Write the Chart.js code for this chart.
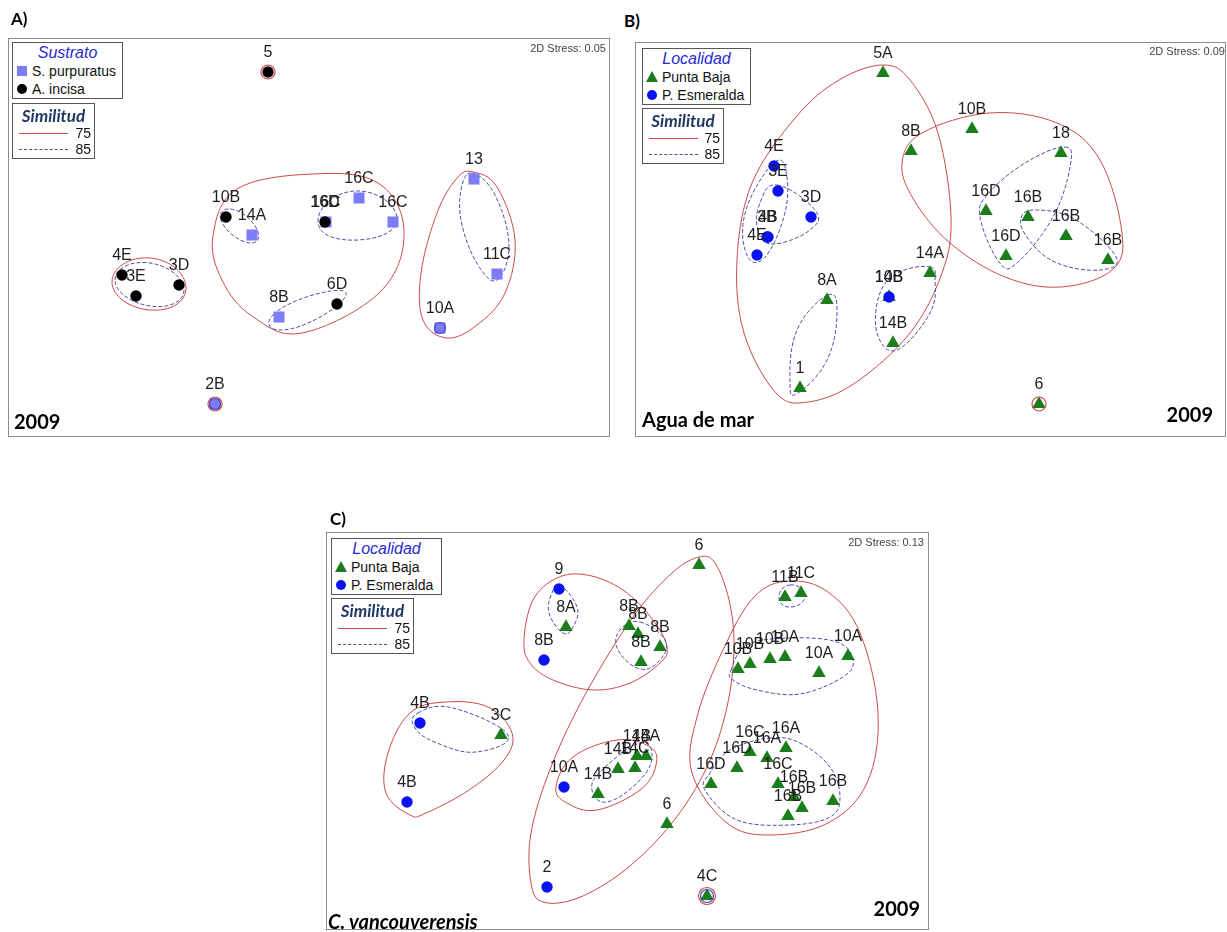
<!DOCTYPE html>
<html>
<head>
<meta charset="utf-8">
<script src="https://cdn.jsdelivr.net/npm/chart.js@4.4.1/dist/chart.umd.min.js"></script>
<style>
  html, body { margin: 0; padding: 0; background: #fff; }
  body { width: 1227px; height: 932px; position: relative; overflow: hidden;
         font-family: "Liberation Sans", Arial, sans-serif; }
  canvas.plot { position: absolute; }
  .t { position: absolute; line-height: 1; white-space: nowrap; }
  .tag { font-family: Lato, "Open Sans", sans-serif; font-weight: 700; font-size: 17px; color: #000; }
  .big { font-family: Lato, "Open Sans", sans-serif; font-weight: 700; font-size: 20px; color: #000; }
  .bigi { font-family: Lato, "Open Sans", sans-serif; font-weight: 700; font-style: italic; font-size: 20px; color: #000; }
  .stress { font-size: 11px; color: #444; }
  .box { position: absolute; border: 1px solid #555; background: #fff; box-sizing: border-box; }
  .ltitle { font-style: italic; font-size: 16px; color: #2a2ad6; }
  .stitle { font-family: Lato, "Open Sans", sans-serif; font-weight: 700; font-style: italic; font-size: 17px; color: #1f3864; }
  .item { font-size: 14px; color: #111; }
</style>
</head>
<body>
<canvas id="chartA" class="plot"></canvas>
<canvas id="chartB" class="plot"></canvas>
<canvas id="chartC" class="plot"></canvas>
<script>
// ---------- shared level names ----------
const simLevels = ['75', '85'];

// ---------- A) Sustrato, 2009 ----------
const aNames  = ['S. purpuratus', 'A. incisa'];
const aLabels = ['5','10B','14A','16C','16D','16C','16C','4E','3E','3D','8B','6D','13','11C','10A','2B'];
const aX      = [260, 218, 244, 318, 317, 351, 385, 114, 128, 171, 271, 329, 466, 489, 432, 207];
const aY      = [365, 220, 202, 215, 215, 239, 215, 162, 141, 152, 120, 133, 258, 163, 109,  33];
const aGroup  = [  1,   1,   0,   0,   1,   0,   0,   1,   1,   1,   0,   1,   0,   0,   0,   0];
const aRing75 = [0, 15];
const aRing85 = [14, 15];
const aHull75 = [
  [[104,155],[142,179],[178,149],[142,127]],
  [[205,201],[229,248],[305,263],[370,254],[396,205],[372,145],[294,104],[244,121],[214,157]],
  [[465,265],[489,250],[507,197],[497,144],[469,112],[439,99],[415,117],[413,164],[429,224],[449,259]]
];
const aHull85 = [
  [[107,157],[142,174],[176,147],[142,131]],
  [[213,217],[227,227],[250,205],[237,195]],
  [[310,215],[347,246],[389,219],[350,197]],
  [[265,122],[317,145],[334,136],[282,108]],
  [[464,264],[487,242],[501,192],[489,157],[470,172],[454,212],[453,247]]
];

// ---------- B) Agua de mar, 2009 ----------
const bNames  = ['Punta Baja', 'P. Esmeralda'];
const bLabels = ['5A','10B','8B','18','16D','16B','16B','16D','16B','14A','14B','14B','8A','1','6',
                 '4E','3E','3D','3B','4B','4E','10B'];
const bX      = [248, 337, 276, 426, 351, 393, 431, 371, 473, 295, 254, 258, 192, 165, 404,
                 139, 143, 176, 132, 133, 122, 254];
const bY      = [364, 308, 286, 284, 226, 220, 201, 181, 177, 164, 140,  94, 137,  49,  33,
                 271, 246, 220, 200, 200, 182, 140];
const bGroup  = [0,0,0,0,0,0,0,0,0,0,0,0,0,0,0, 1,1,1,1,1,1,1];
const bRing75 = [14];
const bRing85 = [];
const bHull75 = [
  [[248,372],[275,357],[303,304],[316,220],[307,164],[275,104],[220,54],[173,35],[141,44],[109,104],[102,177],[117,254],[161,320],[204,357]],
  [[267,274],[287,304],[354,324],[422,314],[465,277],[487,204],[477,167],[426,150],[370,160],[315,194],[279,237]]
];
const bHull85 = [
  [[430,290],[435,270],[418,220],[382,174],[364,175],[345,220],[354,244],[390,274]],
  [[386,219],[402,227],[441,217],[481,180],[465,167],[422,174],[394,197]],
  [[140,275],[152,260],[148,217],[127,177],[110,187],[112,230]],
  [[142,252],[180,227],[175,207],[138,193],[123,207],[125,234]],
  [[193,142],[202,124],[192,77],[163,44],[155,54],[162,107]],
  [[295,170],[300,157],[295,124],[262,87],[242,104],[245,144],[265,165]]
];

// ---------- C) C. vancouverensis, 2009 ----------
const cNames  = ['Punta Baja', 'P. Esmeralda'];
const cLabels = ['6','8A','8B','8B','8B','8B','11B','11C','10B','10B','10B','10A','10A','10A','3C',
                 '14B','14B','14C','14B','14A','6','16D','16D','16C','16A','16A','16C','16B','16B','16B','16B','4C',
                 '9','8B','4B','4B','10A','2'];
const cX      = [373, 240, 303, 312, 334, 315, 459, 475, 412, 424, 444, 459, 493, 522, 175,
                 272, 292, 309, 311, 320, 341, 385, 411, 424, 441, 460, 452, 468, 476, 462, 507, 381,
                 233, 218,  94,  81, 238, 221];
const cY      = [365, 303, 304, 296, 283, 268, 333, 337, 261, 266, 271, 273, 257, 274, 195,
                 136, 161, 162, 174, 174, 106, 146, 162, 178, 172, 182, 146, 133, 122, 114, 129,  34,
                 341, 270, 207, 128, 143,  43];
const cGroup  = [0,0,0,0,0,0,0,0,0,0,0,0,0,0,0, 0,0,0,0,0,0,0,0,0,0,0,0,0,0,0,0,0, 1,1,1,1,1,1];
const cRing75 = [31];
const cRing85 = [31];
const cHull75 = [
  [[198,290],[207,330],[231,352],[261,355],[297,340],[327,310],[341,283],[334,267],[304,247],[267,240],[227,250],[204,267]],
  [[373,373],[389,367],[403,330],[408,283],[401,223],[381,163],[346,107],[299,60],[252,32],[217,28],[205,47],[205,97],[225,163],[260,237],[307,313],[346,357]],
  [[119,228],[162,223],[186,197],[178,170],[143,140],[100,117],[84,115],[60,137],[62,177],[84,217]],
  [[230,143],[247,173],[291,190],[324,183],[330,165],[314,140],[271,120],[241,127]],
  [[463,349],[502,338],[534,297],[552,217],[541,147],[502,107],[444,95],[401,107],[366,157],[371,213],[397,280],[428,333]]
];
const cHull85 = [
  [[234,345],[251,323],[247,303],[237,297],[223,317],[226,337]],
  [[314,308],[339,290],[334,270],[314,261],[292,280],[294,300]],
  [[92,217],[127,222],[182,195],[150,178],[111,187],[89,202]],
  [[314,187],[326,172],[311,147],[281,128],[266,140],[276,160]],
  [[464,345],[479,335],[466,323],[453,332]],
  [[405,260],[421,285],[464,292],[511,288],[527,270],[517,253],[474,236],[431,240],[407,250]],
  [[444,192],[474,187],[504,163],[514,133],[504,113],[464,105],[411,110],[379,140],[384,157],[404,180]]
];

// ---------- styling ----------
const RED = '#cc4a4a';
const NAVY_DASH = '#4a52a8';
const SQUARE = { shape: 'rect',     r: 7.8, color: '#7c7cf4', order: 1 };
const BLACK  = { shape: 'circle',   r: 5.7, color: '#000000', order: 0 };
const GREEN  = { shape: 'triangle', r: 7.8, color: '#1b7d1b', order: 1 };
const BLUE   = { shape: 'circle',   r: 5.7, color: '#0a12f2', order: 0 };

// Closed smooth curve through the outline points (cubic Bezier, circle-tuned handles)
function closedSpline(ctx, pts) {
  const n = pts.length;
  const k = (4 / 3) * Math.tan(Math.PI / (2 * n)) / Math.sin(2 * Math.PI / n);
  ctx.beginPath();
  ctx.moveTo(pts[0][0], pts[0][1]);
  for (let i = 0; i < n; i++) {
    const p0 = pts[(i - 1 + n) % n], p1 = pts[i], p2 = pts[(i + 1) % n], p3 = pts[(i + 2) % n];
    ctx.bezierCurveTo(
      p1[0] + k * (p2[0] - p0[0]) / 2, p1[1] + k * (p2[1] - p0[1]) / 2,
      p2[0] - k * (p3[0] - p1[0]) / 2, p2[1] - k * (p3[1] - p1[1]) / 2,
      p2[0], p2[1]);
  }
  ctx.closePath();
}

function makeChart(id, frame, labels, xs, ys, groups, ring75, ring85, hull75, hull85, names, styles, ringR) {
  const [left, top, w, h] = frame;
  const cv = document.getElementById(id);
  cv.width = w; cv.height = h;
  cv.style.left = left + 'px'; cv.style.top = top + 'px';

  const datasets = styles.map((st, g) => ({
    label: names[g],
    data: labels.map((l, i) => ({ x: xs[i], y: ys[i], label: l, r75: ring75.includes(i), r85: ring85.includes(i), g: groups[i] }))
                .filter(p => p.g === g),
    pointStyle: st.shape,
    pointRadius: st.r,
    pointHoverRadius: st.r,
    backgroundColor: st.color,
    borderColor: st.color,
    borderWidth: 0,
    order: st.order,
    clip: false
  }));

  const hullPlugin = {
    id: 'hulls',
    beforeDatasetsDraw(chart) {
      const { ctx, scales: { x, y } } = chart;
      const toPx = pts => pts.map(p => [x.getPixelForValue(p[0]), y.getPixelForValue(p[1])]);
      ctx.save();
      ctx.lineWidth = 1;
      ctx.strokeStyle = RED;
      ctx.setLineDash([]);
      hull75.forEach(hh => { closedSpline(ctx, toPx(hh)); ctx.stroke(); });
      ctx.strokeStyle = NAVY_DASH;
      ctx.setLineDash([4, 2]);
      hull85.forEach(hh => { closedSpline(ctx, toPx(hh)); ctx.stroke(); });
      ctx.restore();
    },
    afterDatasetsDraw(chart) {
      const { ctx } = chart;
      ctx.save();
      // single-sample clusters drawn as small rings
      chart.data.datasets.forEach((ds, di) => {
        const meta = chart.getDatasetMeta(di);
        meta.data.forEach((el, i) => {
          const p = ds.data[i];
          if (p.r75) {
            ctx.beginPath(); ctx.setLineDash([]); ctx.lineWidth = 1.2; ctx.strokeStyle = RED;
            ctx.arc(el.x, el.y, ringR[0], 0, Math.PI * 2); ctx.stroke();
          }
          if (p.r85) {
            ctx.beginPath(); ctx.setLineDash([]); ctx.lineWidth = 1.2; ctx.strokeStyle = '#3a44c8';
            ctx.arc(el.x, el.y, ringR[1], 0, Math.PI * 2); ctx.stroke();
          }
        });
      });
      // sample labels above each point
      ctx.font = '16px "Liberation Sans", Arial, sans-serif';
      ctx.fillStyle = '#1e1e1e';
      ctx.textAlign = 'center';
      ctx.textBaseline = 'middle';
      chart.data.datasets.forEach((ds, di) => {
        const meta = chart.getDatasetMeta(di);
        meta.data.forEach((el, i) => ctx.fillText(ds.data[i].label, el.x, el.y - 19));
      });
      ctx.restore();
    },
    afterDraw(chart) {
      const { ctx, chartArea: ca } = chart;
      ctx.save();
      ctx.strokeStyle = '#8c8c8c';
      ctx.lineWidth = 1;
      ctx.strokeRect(ca.left + 0.5, ca.top + 0.5, ca.right - ca.left - 1, ca.bottom - ca.top - 1);
      ctx.restore();
    }
  };

  return new Chart(cv, {
    type: 'scatter',
    data: { datasets },
    options: {
      responsive: false,
      maintainAspectRatio: false,
      animation: false,
      events: [],
      layout: { padding: 0, autoPadding: false },
      scales: {
        x: { type: 'linear', min: 0, max: w, display: false },
        y: { type: 'linear', min: 0, max: h, display: false }
      },
      plugins: { legend: { display: false }, tooltip: { enabled: false } }
    },
    plugins: [hullPlugin]
  });
}

makeChart('chartA', [8, 38, 602, 399], aLabels, aX, aY, aGroup, aRing75, aRing85, aHull75, aHull85, aNames, [SQUARE, BLACK], [7, 5.5]);
makeChart('chartB', [635, 42, 591, 395], bLabels, bX, bY, bGroup, bRing75, bRing85, bHull75, bHull85, bNames, [GREEN, BLUE], [7, 5.5]);
makeChart('chartC', [326, 532, 603, 398], cLabels, cX, cY, cGroup, cRing75, cRing85, cHull75, cHull85, cNames, [GREEN, BLUE], [8.5, 6.5]);

// ---------- text and legend boxes ----------
function el(tag, cls, parent) {
  const d = document.createElement(tag);
  if (cls) d.className = cls;
  (parent || document.body).appendChild(d);
  return d;
}
function txt(str, x, y, cls, align, parent) {
  const d = el('div', 't ' + cls, parent);
  d.textContent = str;
  d.style.top = y + 'px';
  if (align === 'r') {
    d.style.right = ((parent ? parent.clientWidth : 1227) - x) + 'px';
    d.style.transform = 'translateY(-50%)';
  } else if (align === 'c') {
    d.style.left = x + 'px';
    d.style.transform = 'translate(-50%,-50%)';
  } else {
    d.style.left = x + 'px';
    d.style.transform = 'translateY(-50%)';
  }
  return d;
}
function marker(parent, style, cx, cy) {
  const m = el('div', '', parent);
  m.style.position = 'absolute';
  if (style.shape === 'triangle') {
    m.style.width = '0'; m.style.height = '0';
    m.style.borderLeft = '6.5px solid transparent';
    m.style.borderRight = '6.5px solid transparent';
    m.style.borderBottom = '11px solid ' + style.color;
    m.style.left = (cx - 6.5) + 'px'; m.style.top = (cy - 6) + 'px';
  } else {
    m.style.width = '10px'; m.style.height = '10px';
    m.style.background = style.color;
    if (style.shape === 'circle') m.style.borderRadius = '50%';
    m.style.left = (cx - 5) + 'px'; m.style.top = (cy - 5) + 'px';
  }
}
function box(left, top, w, h) {
  const b = el('div', 'box');
  b.style.left = left + 'px'; b.style.top = top + 'px';
  b.style.width = w + 'px'; b.style.height = h + 'px';
  return b;
}
function legend(left, top, top2, w1, w2, title, names, styles) {
  const b1 = box(left, top, w1, 57);
  txt(title, w1 / 2 - 1, 10, 'ltitle', 'c', b1);
  names.forEach((n, i) => {
    marker(b1, styles[i], 9, 28 + i * 18);
    txt(n, 19, 28 + i * 18, 'item', 'l', b1);
  });
  const b2 = box(left, top2, w2, 56);
  txt('Similitud', w2 / 2 - 1, 11, 'stitle', 'c', b2);
  simLevels.forEach((lv, i) => {
    const ln = el('div', '', b2);
    ln.style.position = 'absolute';
    ln.style.left = '6px'; ln.style.width = '49px'; ln.style.height = '0';
    ln.style.top = (29 + i * 16) + 'px';
    ln.style.borderTop = i === 0 ? '1px solid ' + RED : '1px dashed ' + NAVY_DASH;
    const t = txt(lv, 0, 29 + i * 16, 'item', 'l', b2);
    t.style.left = 'auto'; t.style.right = '3px';
  });
}

legend(12, 42, 103, 111, 83, 'Sustrato', aNames, [SQUARE, BLACK]);
legend(642, 48, 108, 109, 82, 'Localidad', bNames, [GREEN, BLUE]);
legend(331, 538, 598, 111, 83, 'Localidad', cNames, [GREEN, BLUE]);

txt('A)', 11, 18, 'tag', 'l');
txt('B)', 624, 20, 'tag', 'l');
txt('C)', 330, 518, 'tag', 'l');

txt('2D Stress: 0.05', 606, 48, 'stress', 'r');
txt('2D Stress: 0.09', 1225, 51, 'stress', 'r');
txt('2D Stress: 0.13', 924, 542, 'stress', 'r');

txt('2009', 14, 421, 'big', 'l');
txt('Agua de mar', 642, 419, 'big', 'l');
txt('2009', 1213, 414, 'big', 'r');
txt('C. vancouverensis', 328, 921, 'bigi', 'l');
txt('2009', 920, 908, 'big', 'r');
</script>
</body>
</html>
